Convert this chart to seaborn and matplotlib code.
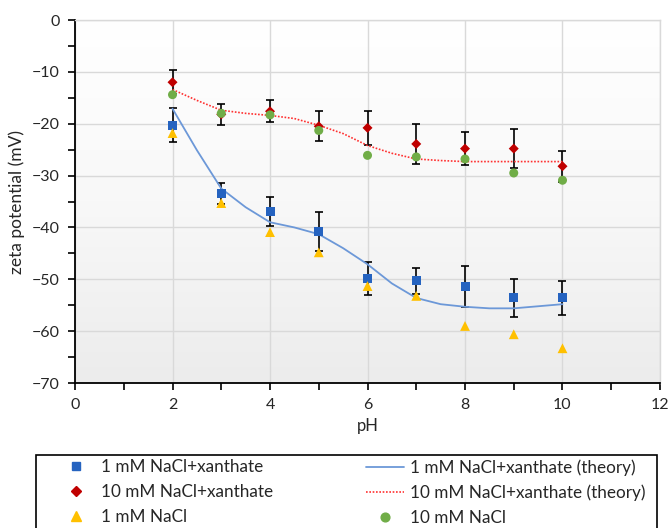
import matplotlib
matplotlib.use("Agg")
import matplotlib.pyplot as plt
from matplotlib.colors import LinearSegmentedColormap
from matplotlib.ticker import MultipleLocator
from matplotlib.lines import Line2D
from matplotlib.patches import Rectangle
import numpy as np
import pandas as pd
import seaborn as sns

# measured zeta potentials (mV) vs pH
ph = [2, 3, 4, 5, 6, 7, 8, 9, 10]
xan_1mm = [-20.3, -33.5, -36.9, -40.8, -49.8, -50.3, -51.4, -53.6, -53.6]
xan_1mm_err = [3.3, 2.0, 2.8, 3.7, 3.2, 2.5, 3.9, 3.6, 3.2]
xan_10mm = [-12.0, -18.2, -17.6, -20.5, -20.8, -23.9, -24.8, -24.8, -28.2]
xan_10mm_err = [2.3, 2.0, 2.1, 2.9, 3.3, 3.9, 3.2, 3.7, 3.0]
nacl_1mm = [-21.8, -35.3, -40.9, -44.8, -51.3, -53.2, -59.0, -60.6, -63.3]
nacl_10mm = [-14.4, -18.0, -18.3, -21.3, -26.1, -26.4, -26.8, -29.5, -30.9]

# theory curves
theory_ph = [2, 2.5, 3, 3.5, 4, 4.5, 5, 5.5, 6, 6.5, 7, 7.5, 8, 8.5, 9, 9.5, 10]
theory_1mm = [-17.1, -25.1, -32.5, -36.1, -39.0, -40.0, -41.3, -44.0, -47.1,
              -50.8, -53.6, -54.8, -55.3, -55.6, -55.6, -55.2, -54.8]
theory_10mm = [-13.4, -15.5, -17.4, -18.0, -18.4, -19.0, -20.3, -21.9, -24.2,
               -25.7, -26.8, -27.1, -27.3, -27.3, -27.3, -27.3, -27.3]

labels_left = ["1 mM NaCl+xanthate", "10 mM NaCl+xanthate", "1 mM NaCl"]
labels_right = ["1 mM NaCl+xanthate (theory)", "10 mM NaCl+xanthate (theory)", "10 mM NaCl"]

c_blue, c_red, c_yel, c_grn = "#2563c0", "#c00000", "#ffc000", "#70ad47"
c_tblue, c_tred = "#6c98d8", "#ff3030"
txt = "#262626"

sns.set_theme(style="white")
plt.rcParams["font.family"] = ["Lato", "DejaVu Sans"]

fig = plt.figure(figsize=(6.71, 5.28), dpi=100)
ax = fig.add_axes([0.1118, 0.2746, 0.8718, 0.6875])

# plot area gradient fill
cmap = LinearSegmentedColormap.from_list("bg", ["#ffffff", "#f8f8f8", "#ececec"])
grad = np.linspace(0, 1, 256).reshape(-1, 1)
ax.imshow(grad, extent=[0, 12, -70, 0], aspect="auto", cmap=cmap, zorder=0)

# error bars
for y, e in [(xan_1mm, xan_1mm_err), (xan_10mm, xan_10mm_err)]:
    ax.errorbar(ph, y, yerr=e, fmt="none", ecolor="black",
                elinewidth=1.2, capsize=3.2, capthick=1.2, zorder=2)

df_t = pd.DataFrame({"pH": theory_ph, "t1": theory_1mm, "t10": theory_10mm})
sns.lineplot(data=df_t, x="pH", y="t1", color=c_tblue, lw=1.3, ax=ax, zorder=3)
sns.lineplot(data=df_t, x="pH", y="t10", color=c_tred, lw=1.2, ls=(0, (1, 1)),
             ax=ax, zorder=3)

df = pd.DataFrame({"pH": ph, "a": xan_1mm, "b": xan_10mm, "c": nacl_1mm, "d": nacl_10mm})
sns.scatterplot(data=df, x="pH", y="a", marker="s", s=42, color=c_blue,
                edgecolor="none", ax=ax, zorder=4)
sns.scatterplot(data=df, x="pH", y="b", marker="D", s=26, color=c_red,
                edgecolor="none", ax=ax, zorder=4)
sns.scatterplot(data=df, x="pH", y="c", marker="^", s=50, color=c_yel,
                edgecolor="none", ax=ax, zorder=5)
sns.scatterplot(data=df, x="pH", y="d", marker="o", s=42, color=c_grn,
                edgecolor="none", ax=ax, zorder=5)

ax.set_xlim(0, 12)
ax.set_ylim(-70, 0)
ax.xaxis.set_major_locator(MultipleLocator(2))
ax.xaxis.set_minor_locator(MultipleLocator(1))
ax.yaxis.set_major_locator(MultipleLocator(10))
ax.yaxis.set_minor_locator(MultipleLocator(5))
ax.grid(True, which="major", color="#d9d9d9", lw=1)
ax.set_axisbelow(True)
for side in ["top", "right"]:
    ax.spines[side].set_color("#d9d9d9")
    ax.spines[side].set_linewidth(1)
for side in ["left", "bottom"]:
    ax.spines[side].set_color("black")
    ax.spines[side].set_linewidth(1.3)
ax.tick_params(which="both", direction="out", color="black", width=1.2,
               labelsize=11.5, labelcolor=txt)
ax.tick_params(which="major", length=5, pad=6)
ax.tick_params(which="minor", length=5)
ax.tick_params(axis="x", which="both", bottom=True)
ax.tick_params(axis="y", which="both", left=True)
ax.set_xlabel("pH", fontsize=12, color=txt, labelpad=4)
ax.set_ylabel("zeta potential (mV)", fontsize=12.5, color=txt, labelpad=5)

# legend: frame drawn separately, two single-column legends inside
fig.add_artist(Rectangle((36 / 671, -0.05), 621 / 671, 1 - 455 / 528 + 0.05,
                         transform=fig.transFigure, fill=False, ec="black",
                         lw=1.2, clip_on=False))
h_left = [
    Line2D([], [], ls="none", marker="s", ms=6.3, color=c_blue),
    Line2D([], [], ls="none", marker="D", ms=4.8, color=c_red),
    Line2D([], [], ls="none", marker="^", ms=6.8, color=c_yel),
]
h_right = [
    Line2D([], [], color=c_tblue, lw=1.3),
    Line2D([], [], color=c_tred, lw=1.2, ls=(0, (1, 1))),
    Line2D([], [], ls="none", marker="o", ms=6.3, color=c_grn),
]
leg_kw = dict(loc="upper left", fontsize=12.3, frameon=False, handlelength=2.2,
              handletextpad=0.4, labelspacing=0.53, borderpad=0, borderaxespad=0,
              labelcolor=txt)
leg1 = fig.legend(h_left, labels_left, bbox_to_anchor=(57 / 671, 1 - 459 / 528), **leg_kw)
leg2 = fig.legend(h_right, labels_right, bbox_to_anchor=(366 / 671, 1 - 459 / 528), **leg_kw)

fig.savefig("out.png", dpi=100)
